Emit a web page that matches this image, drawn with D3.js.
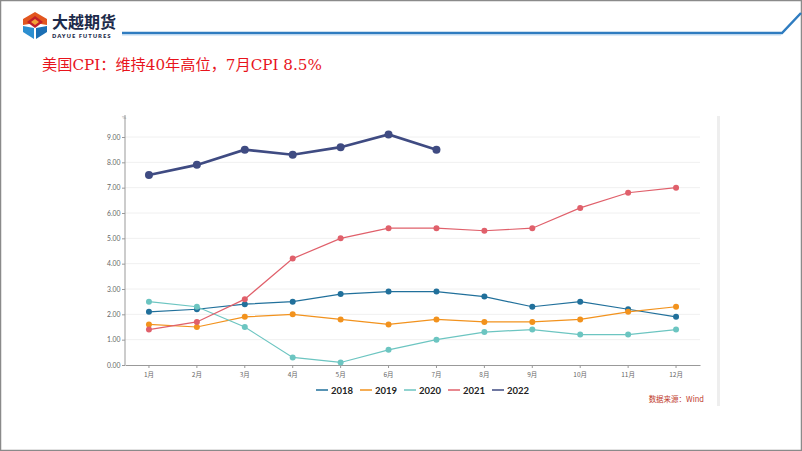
<!DOCTYPE html>
<html><head><meta charset="utf-8">
<script src="https://cdn.jsdelivr.net/npm/d3@7/dist/d3.min.js"></script>
<style>body{margin:0;background:#fff}svg{display:block}</style>
</head><body><svg id="c" width="802" height="451"></svg>
<script>
const months = ["1月","2月","3月","4月","5月","6月","7月","8月","9月","10月","11月","12月"];
const yTicks = [0,1,2,3,4,5,6,7,8,9];
const s2018 = [2.1,2.2,2.4,2.5,2.8,2.9,2.9,2.7,2.3,2.5,2.2,1.9];
const s2019 = [1.6,1.5,1.9,2.0,1.8,1.6,1.8,1.7,1.7,1.8,2.1,2.3];
const s2020 = [2.5,2.3,1.5,0.3,0.1,0.6,1.0,1.3,1.4,1.2,1.2,1.4];
const s2021 = [1.4,1.7,2.6,4.2,5.0,5.4,5.4,5.3,5.4,6.2,6.8,7.0];
const s2022 = [7.5,7.9,8.5,8.3,8.6,9.1,8.5];
const seriesNames = ["2018","2019","2020","2021","2022"];
const colors = ["#21709b","#f2921d","#6cc5c1","#e0606b","#3f4b82"];
const seriesData = [s2018,s2019,s2020,s2021,s2022];

const svg = d3.select("#c");
svg.append("rect").attr("x",0.5).attr("y",0.5).attr("width",801).attr("height",450)
  .attr("fill","none").attr("stroke","#8a8a8a").attr("stroke-width",1.5);
svg.append("path").attr("d","M122,33 L782,33 L801,13").attr("fill","none")
  .attr("stroke","#2f7cc0").attr("stroke-width",2.5);
svg.append("path").attr("d","M122,35 L781,35").attr("fill","none")
  .attr("stroke","#a9cdee").attr("stroke-width",0.8);
const lg = svg.append("g").attr("transform","translate(35,25)");
lg.append("polygon").attr("points","0,-13 12,-6 12,0 0,-2 -12,0 -12,-6").attr("fill","#e2561f");
lg.append("polygon").attr("points","0,-9 8,-3 0,3 -8,-3").attr("fill","#c11f2a");
lg.append("polygon").attr("points","0,-6 4,-3 0,0 -4,-3").attr("fill","#f2a23a");
lg.append("polygon").attr("points","-12,1 -1,3 -1,14 -12,7").attr("fill","#2d8fd0");
lg.append("polygon").attr("points","12,1 1,3 1,14 12,7").attr("fill","#1c6fb4");
svg.append("text").attr("x",52).attr("y",28).text("大越期货")
  .attr("font-family","Noto Sans CJK SC").attr("font-weight","bold").attr("font-size",16).attr("fill","#1d2a4a");
svg.append("text").attr("x",52).attr("y",38).text("DAYUE FUTURES")
  .attr("font-family","Noto Sans").attr("font-weight","bold").attr("font-size",6).attr("letter-spacing",0.9).attr("fill","#1d2a4a");
svg.append("text").attr("x",42).attr("y",70).text("美国CPI：维持40年高位，7月CPI 8.5%")
  .attr("font-family","'DejaVu Serif','Noto Sans CJK SC'").attr("font-size",15.2).attr("fill","#e8141c");

const x = d3.scaleBand().domain(months).range([125,700]);
const y = d3.scaleLinear().domain([0,9]).range([365,137]);
const g = svg.append("g");
g.selectAll(".grid").data(yTicks.slice(1)).join("line")
  .attr("x1",125).attr("x2",700).attr("y1",d=>y(d)).attr("y2",d=>y(d))
  .attr("stroke","#f0f0f0").attr("stroke-width",1);
const ya = g.append("g").attr("transform","translate(125,0)")
  .call(d3.axisLeft(y).tickValues(yTicks).tickFormat(d3.format(".2f")).tickSize(3).tickSizeOuter(0));
ya.select(".domain").attr("stroke","#999").attr("d","M0,115V365");
ya.selectAll(".tick line").attr("stroke","#999");
ya.selectAll("text").attr("font-size",6.8).attr("fill","#666").attr("font-family","Lato").attr("dx",1.5);
g.append("text").attr("x",124).attr("y",119).text("%").attr("font-size",5).attr("fill","#888").attr("text-anchor","middle");
const xa = g.append("g").attr("transform","translate(0,365)")
  .call(d3.axisBottom(x).tickSize(3).tickSizeOuter(0));
xa.select(".domain").attr("stroke","#999");
xa.selectAll(".tick line").attr("stroke","#999");
xa.selectAll("text").attr("font-size",6.5).attr("fill","#666").attr("font-family","Noto Sans CJK SC").attr("dy","0.9em");

const line = d3.line().x((d,i)=>x(months[i])+x.bandwidth()/2).y(d=>y(d));
seriesData.forEach((arr,k)=>{
  const thick = k===4;
  const sg = g.append("g");
  sg.append("path").datum(arr).attr("d",line).attr("fill","none")
    .attr("stroke",colors[k]).attr("stroke-width",thick?2.6:1.2);
  sg.selectAll("circle").data(arr).join("circle")
    .attr("cx",(d,i)=>x(months[i])+x.bandwidth()/2).attr("cy",d=>y(d))
    .attr("r",thick?4:3).attr("fill",colors[k]);
});

const lgW = 44;
const leg = svg.append("g").attr("transform","translate(316,390)");
seriesNames.forEach((n,k)=>{
  const gg = leg.append("g").attr("transform",`translate(${k*lgW},0)`);
  gg.append("line").attr("x1",0).attr("x2",12).attr("y1",0).attr("y2",0).attr("stroke",colors[k]).attr("stroke-width",1.5);
  gg.append("text").attr("x",15).attr("y",3.5).text(n).attr("font-family","Lato").attr("font-weight","bold")
    .attr("font-size",9.5).attr("fill","#222");
});
svg.append("rect").attr("x",717).attr("y",116).attr("width",3).attr("height",290).attr("fill","#eeeeee");
svg.append("text").attr("x",704).attr("y",402).attr("text-anchor","end").text("数据来源：Wind")
  .attr("font-family","Noto Sans CJK SC").attr("font-size",7.5).attr("fill","#c0392b");
</script></body></html>
